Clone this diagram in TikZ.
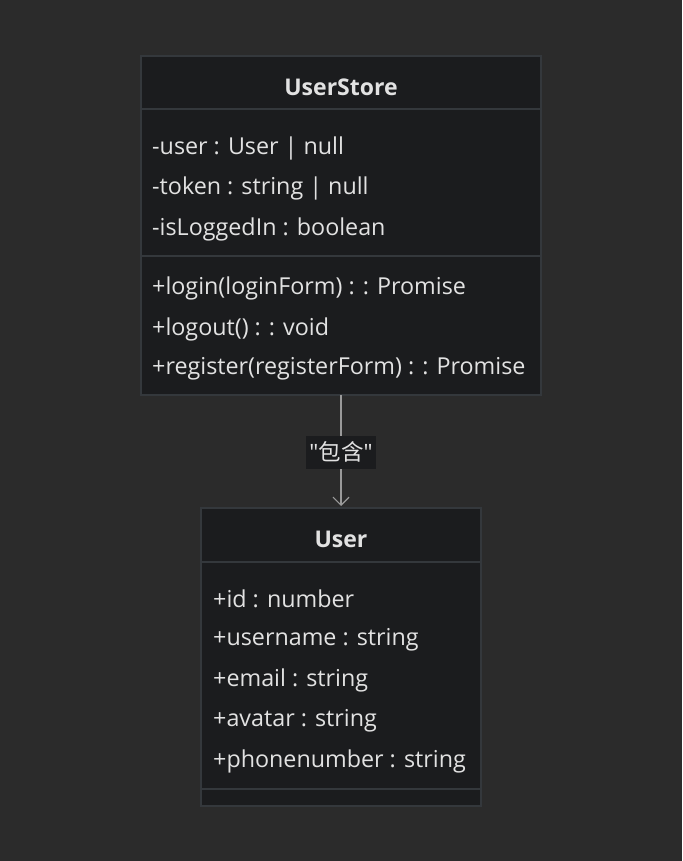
\documentclass[tikz,border=0pt]{standalone}
\usepackage{fontspec}
\setmainfont{Open Sans}
\newfontfamily\cjk{Noto Sans CJK SC}
\usetikzlibrary{arrows.meta}
\definecolor{bg}{HTML}{2B2B2B}
\definecolor{boxfill}{HTML}{1B1C1E}
\definecolor{boxline}{HTML}{34383C}
\definecolor{txt}{HTML}{E2E2E2}
\definecolor{arr}{HTML}{9A9A9A}
\tikzset{
  umlbox/.style={draw=boxline, fill=boxfill, line width=1.2pt},
  divider/.style={draw=boxline, line width=1.2pt},
  member/.style={anchor=west, text=txt, font=\fontsize{23.3}{27}\selectfont, inner sep=0pt},
  title/.style={text=txt, font=\fontsize{23}{27}\selectfont\bfseries, inner sep=0pt},
  conn/.style={draw=arr, line width=1.2pt},
  lbl/.style={fill=boxfill, text=txt, font=\fontsize{22.5}{26}\selectfont, inner sep=0pt, minimum width=70pt, minimum height=33pt},
}
\begin{document}
\begin{tikzpicture}[x=1pt,y=-1pt]
\fill[bg] (0,0) rectangle (682,861);
\useasboundingbox (0,0) rectangle (682,861);
% UserStore
\path[umlbox] (141,56) rectangle (541,395);
\coordinate (usS) at (341,395);
\draw[divider] (141,109) -- (541,109);
\draw[divider] (141,256) -- (541,256);
\node[title] (ust) at (341,87) {UserStore};
\node[member] (a1) at (152,148) {-user : User | null};
\node[member] (a2) at (152,188) {-token : string | null};
\node[member] (a3) at (152,229) {-isLoggedIn : boolean};
\node[member] (m1) at (152,288) {+login(loginForm) : : Promise};
\node[member] (m2) at (152,329) {+logout() : : void};
\node[member] (m3) at (152,369) {+register(registerForm) : : Promise};
% User
\path[umlbox] (201,508) rectangle (481,806);
\coordinate (uN) at (341,506);
\draw[divider] (201,562) -- (481,562);
\draw[divider] (201,789) -- (481,789);
\node[title] (ut) at (341,539) {User};
\node[member] (b1) at (213,599) {+id : number};
\node[member] (b2) at (213,640) {+username : string};
\node[member] (b3) at (213,680) {+email : string};
\node[member] (b4) at (213,721) {+avatar : string};
\node[member] (b5) at (213,761) {+phonenumber : string};
% connector
\draw[conn, -{Straight Barb[length=8pt,width=16pt]}] (usS) -- (uN);
\node[lbl] (lab) at (341,452) {\textquotedbl{\cjk 包含}\textquotedbl};
\end{tikzpicture}
\end{document}
